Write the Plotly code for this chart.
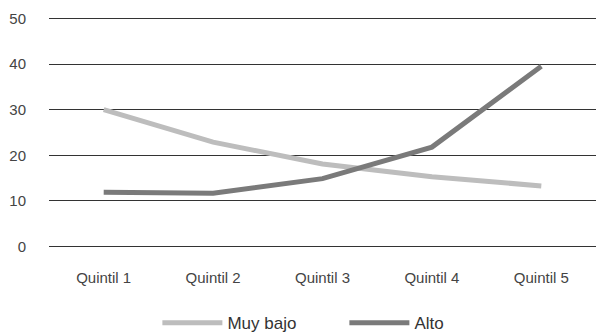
import plotly.graph_objects as go

categories = ["Quintil 1", "Quintil 2", "Quintil 3", "Quintil 4", "Quintil 5"]
muy_bajo = [30.0, 22.9, 18.1, 15.3, 13.3]
alto = [11.9, 11.7, 14.9, 21.8, 39.5]
y_ticks = [0, 10, 20, 30, 40, 50]

fig = go.Figure()
fig.add_trace(go.Scatter(x=categories, y=muy_bajo, mode="lines", name="Muy bajo",
                         line=dict(color="#bdbdbd", width=5)))
fig.add_trace(go.Scatter(x=categories, y=alto, mode="lines", name="Alto",
                         line=dict(color="#7a7a7a", width=5)))

fig.update_layout(
    width=596, height=333,
    margin=dict(l=49, r=0, t=17, b=85, autoexpand=False),
    paper_bgcolor="white", plot_bgcolor="white",
    font=dict(family="Liberation Sans, Arial, sans-serif", size=15, color="#444444"),
    showlegend=True,
    legend=dict(orientation="h", x=0.54, xanchor="center", y=-0.325, yanchor="middle",
                font=dict(size=17, color="#333333"), itemwidth=60, tracegroupgap=0,
                entrywidth=112, entrywidthmode="pixels", maxheight=1),
    xaxis=dict(range=[-0.5, 4.5], showgrid=False, showline=False, ticks="", zeroline=False,
               ticklabelstandoff=19),
    yaxis=dict(range=[-0.3, 50.3], tickvals=y_ticks, showgrid=True, gridcolor="#333333",
               gridwidth=1, zeroline=False,
               showline=False, ticks="", ticklabelstandoff=22),
)

fig.write_html("out.html")
